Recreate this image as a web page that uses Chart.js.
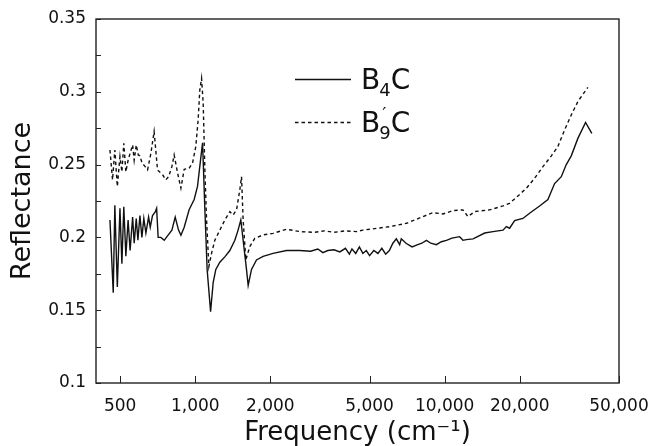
<!DOCTYPE html>
<html><head><meta charset="utf-8">
<script src="https://cdn.jsdelivr.net/npm/chart.js@4"></script>
<style>html,body{margin:0;padding:0;background:#fff}</style>
</head><body>
<canvas id="c" width="652" height="446" style="width:652px;height:446px;display:block"></canvas>
<script>
// ---- data ----
const freqB4C = [
  455, 469, 476, 487, 499, 508, 517, 527, 538, 548,
  561, 569, 580, 589, 600, 611, 622, 634, 650, 660,
  674, 691, 700, 710, 728, 751, 774, 806, 831, 857,
  876, 903, 945, 990, 1021, 1053, 1070, 1093, 1116, 1152,
  1180, 1209, 1255, 1314, 1376, 1441, 1485, 1523, 1605, 1630,
  1681, 1760, 1871, 2051, 2322, 2625, 2900, 3100, 3250, 3400,
  3600, 3800, 4000, 4150, 4250, 4400, 4550, 4700, 4850, 5000,
  5200, 5400, 5600, 5800, 6000, 6200, 6400, 6600, 6700, 7000,
  7400, 7800, 8100, 8450, 8800, 9260, 9700, 10160, 10700, 11480,
  11840, 12220, 13000, 14470, 15620, 17130, 17670, 18210, 19080, 20590,
  21900, 24020, 25940, 27590, 29350, 30730, 32180, 34200, 36720, 38910
];
const reflB4C = [
  0.212, 0.162, 0.222, 0.166, 0.220, 0.182, 0.221, 0.187, 0.212, 0.191,
  0.214, 0.196, 0.213, 0.198, 0.215, 0.200, 0.213, 0.203, 0.214, 0.207,
  0.215, 0.2175, 0.220, 0.200, 0.200, 0.198, 0.201, 0.205, 0.214, 0.205,
  0.2015, 0.207, 0.219, 0.226, 0.235, 0.255, 0.265, 0.219, 0.178, 0.149,
  0.169, 0.178, 0.183, 0.1866, 0.191, 0.198, 0.205, 0.212, 0.178, 0.167,
  0.178, 0.1845, 0.187, 0.189, 0.191, 0.191, 0.1905, 0.192, 0.1895, 0.191,
  0.1915, 0.190, 0.1925, 0.1885, 0.192, 0.189, 0.1935, 0.189, 0.191, 0.1875,
  0.191, 0.189, 0.1925, 0.1885, 0.191, 0.196, 0.199, 0.195, 0.199, 0.196,
  0.1935, 0.195, 0.196, 0.198, 0.196, 0.195, 0.197, 0.198, 0.1995, 0.2005,
  0.198, 0.1985, 0.199, 0.203, 0.204, 0.205, 0.2074, 0.2063, 0.2115, 0.213,
  0.2166, 0.2216, 0.226, 0.237, 0.2417, 0.250, 0.256, 0.268, 0.279, 0.2715
];
const freqB9C = [
  455, 466, 476, 487, 499, 508, 517, 527, 538, 548,
  561, 569, 580, 591, 600, 612, 630, 644, 664, 684,
  706, 740, 762, 782, 806, 823, 850, 876, 903, 945,
  975, 1005, 1027, 1043, 1060, 1076, 1093, 1110, 1134, 1162,
  1198, 1255, 1314, 1376, 1418, 1464, 1509, 1533, 1556, 1595,
  1655, 1733, 1871, 2051, 2322, 2625, 3000, 3300, 3600, 4000,
  4430, 4700, 5007, 5500, 6021, 6500, 7025, 7600, 8188, 8976,
  9845, 10800, 11840, 12400, 13190, 15150, 17130, 18210, 19670, 21250,
  22940, 24770, 26770, 28440, 30250, 32180, 34200, 37520
];
const reflB9C = [
  0.260, 0.2395, 0.260, 0.235, 0.2555, 0.245, 0.2647, 0.245, 0.253, 0.2578,
  0.2635, 0.253, 0.2635, 0.2566, 0.256, 0.251, 0.2486, 0.2464, 0.2578, 0.2727,
  0.2463, 0.243, 0.2395, 0.2417, 0.2486, 0.2566, 0.244, 0.2338, 0.2468, 0.2475,
  0.251, 0.2624, 0.2807, 0.3013, 0.3093, 0.2922, 0.2463, 0.212, 0.180, 0.189,
  0.198, 0.205, 0.212, 0.2177, 0.2154, 0.2189, 0.2326, 0.2417, 0.212, 0.1845,
  0.1937, 0.1994, 0.2017, 0.2028, 0.2056, 0.204, 0.2035, 0.2045, 0.2035, 0.2045,
  0.204, 0.205, 0.2056, 0.2065, 0.2074, 0.2085, 0.2097, 0.212, 0.2143, 0.217,
  0.2161, 0.2184, 0.2189, 0.2143, 0.2177, 0.2189, 0.2216, 0.2234, 0.2285, 0.2337,
  0.2406, 0.2486, 0.256, 0.2624, 0.2738, 0.2841, 0.2933, 0.3031
];
const xTickValues = [500, 1000, 2000, 5000, 10000, 20000, 50000];
const yTickValues = [0.1, 0.15, 0.2, 0.25, 0.3, 0.35];
const yMinorTicks = [0.125, 0.175, 0.225, 0.275, 0.325];
const seriesNames = ['B4C', 'B9C'];

// ---- styling ----
const FONT = 'DejaVu Sans';
const INK = '#111';
const zip = (xs, ys) => xs.map((x, i) => ({x: x, y: ys[i]}));

const framePlugin = {
  id: 'frame',
  afterDatasetsDraw(chart) {
    const {ctx, chartArea: a, scales} = chart;
    ctx.save();
    ctx.strokeStyle = '#222';
    ctx.lineWidth = 1.4;
    ctx.strokeRect(a.left, a.top, a.right - a.left, a.bottom - a.top);
    ctx.lineWidth = 1;
    ctx.beginPath();
    yTickValues.concat(yMinorTicks).forEach(v => {
      const y = Math.round(scales.y.getPixelForValue(v)) + 0.5;
      ctx.moveTo(a.left, y); ctx.lineTo(a.left + 5, y);
    });
    xTickValues.forEach(v => {
      const x = Math.round(scales.x.getPixelForValue(v)) + 0.5;
      ctx.moveTo(x, a.bottom); ctx.lineTo(x, a.bottom - 7);
    });
    ctx.stroke();

    // legend
    const lx0 = 295, lx1 = 351;
    const rows = [
      {y: 79, dash: [], sub: '4', prime: false},
      {y: 122, dash: [3.5, 3], sub: '9', prime: true}
    ];
    rows.forEach(r => {
      ctx.strokeStyle = INK;
      ctx.lineWidth = 1.4;
      ctx.setLineDash(r.dash);
      ctx.beginPath();
      ctx.moveTo(lx0, r.y + 0.5); ctx.lineTo(lx1, r.y + 0.5);
      ctx.stroke();
      ctx.setLineDash([]);
      ctx.fillStyle = INK;
      ctx.textBaseline = 'alphabetic';
      ctx.textAlign = 'left';
      const base = r.y + 10;
      let x = 361;
      ctx.font = '28px "' + FONT + '"';
      ctx.fillText('B', x, base);
      x += ctx.measureText('B').width - 1;
      ctx.font = '18px "' + FONT + '"';
      ctx.fillText(r.sub, x, base + 7);
      if (r.prime) ctx.fillText('\u2032', x + 3, base - 12);
      x += ctx.measureText(r.sub).width;
      ctx.font = '28px "' + FONT + '"';
      ctx.fillText('C', x, base);
    });
    ctx.restore();
  }
};

new Chart(document.getElementById('c').getContext('2d'), {
  type: 'scatter',
  data: {
    datasets: [
      {label: seriesNames[0], data: zip(freqB4C, reflB4C), showLine: true, pointRadius: 0,
       borderColor: INK, borderWidth: 1.4, fill: false, tension: 0},
      {label: seriesNames[1], data: zip(freqB9C, reflB9C), showLine: true, pointRadius: 0,
       borderColor: INK, borderWidth: 1.4, borderDash: [3.5, 3], fill: false, tension: 0}
    ]
  },
  options: {
    responsive: false,
    animation: false,
    events: [],
    layout: {padding: {top: 19, right: 33, left: 0, bottom: 0}},
    plugins: {legend: {display: false}, tooltip: {enabled: false}},
    scales: {
      x: {
        type: 'logarithmic', min: 400, max: 50000,
        afterBuildTicks: s => { s.ticks = xTickValues.map(v => ({value: v})); },
        afterFit: s => { s.height = 63; s.paddingRight = 0; s.paddingLeft = 0; },
        grid: {display: false, drawTicks: false},
        border: {display: false},
        ticks: {font: {family: FONT, size: 17}, color: INK, padding: 13, maxRotation: 0, autoSkip: false,
                callback: v => Number(v).toLocaleString('en-US')},
        title: {display: true, text: 'Frequency (cm\u207B\u00B9)', color: INK,
                font: {family: FONT, size: 26, lineHeight: 1.0}, padding: {top: 0, bottom: 0}}
      },
      y: {
        min: 0.1, max: 0.35,
        afterBuildTicks: s => { s.ticks = yTickValues.map(v => ({value: v})); },
        afterFit: s => { s.width = 96; s.paddingTop = 0; s.paddingBottom = 0; },
        grid: {display: false, drawTicks: false},
        border: {display: false},
        ticks: {font: {family: FONT, size: 17}, color: INK, padding: 10,
                callback: v => String(+Number(v).toFixed(3))},
        title: {display: true, text: 'Reflectance', color: INK,
                font: {family: FONT, size: 27}, padding: {top: 7, bottom: 0}}
      }
    }
  },
  plugins: [framePlugin]
});
</script>
</body></html>
